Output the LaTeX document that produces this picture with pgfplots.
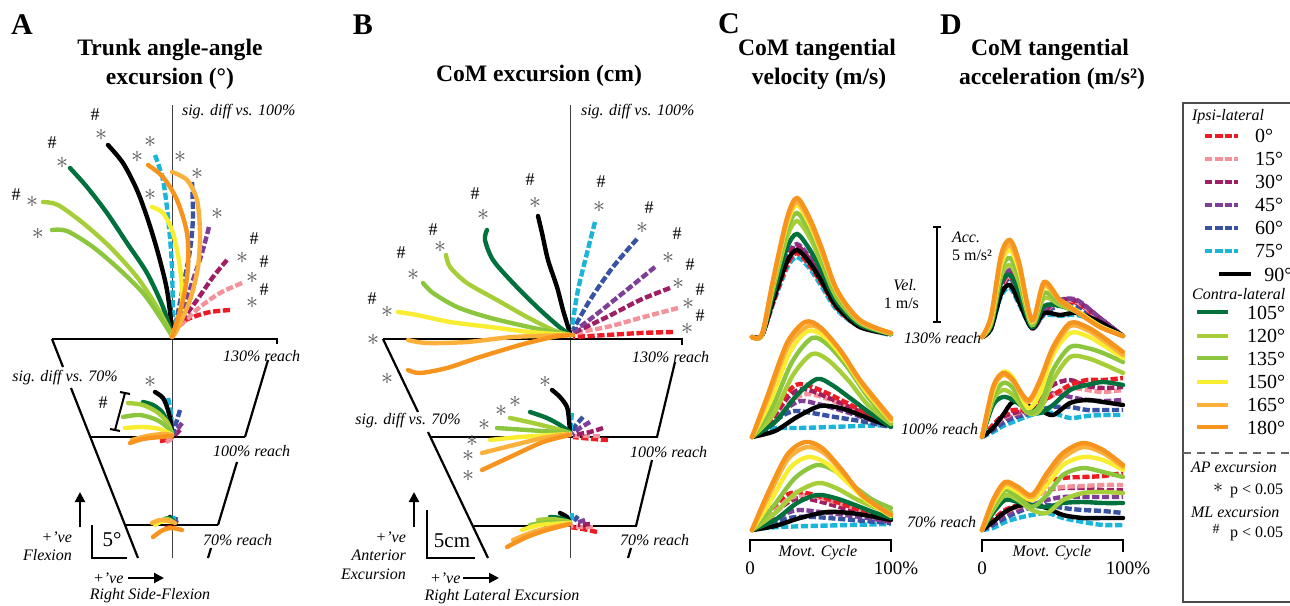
\documentclass[border=0pt]{standalone}
\usepackage{pgfplots}
\pgfplotsset{compat=1.18}
\usepackage{fontspec}
\setmainfont{Liberation Serif}
\usetikzlibrary{arrows.meta}

\definecolor{C0}{HTML}{ED1C24}
\definecolor{C15}{HTML}{F3929B}
\definecolor{C30}{HTML}{9E1F63}
\definecolor{C45}{HTML}{7F3F98}
\definecolor{C60}{HTML}{3953A4}
\definecolor{C75}{HTML}{1CB5DA}
\definecolor{C105}{HTML}{00703C}
\definecolor{C120}{HTML}{A6CE39}
\definecolor{C135}{HTML}{8CC63F}
\definecolor{C150}{HTML}{F9ED32}
\definecolor{C165}{HTML}{FBB03B}
\definecolor{C180}{HTML}{F7941D}
\definecolor{star}{HTML}{555555}

\newcommand{\fs}[1]{\fontsize{#1}{#1}\selectfont}

\tikzset{
  base/.style={line width=2.2pt, smooth},
  dsh/.style={base, dash pattern=on 3.6pt off 1.3pt},
  sol/.style={base, line cap=round},
  i0/.style={dsh, color=C0}, i15/.style={dsh, color=C15}, i30/.style={dsh, color=C30},
  i45/.style={dsh, color=C45}, i60/.style={dsh, color=C60}, i75/.style={dsh, color=C75},
  k90/.style={sol, color=black}, k105/.style={sol, color=C105}, k120/.style={sol, color=C120},
  k135/.style={sol, color=C135}, k150/.style={sol, color=C150}, k165/.style={sol, color=C165},
  k180/.style={sol, color=C180},
  frame/.style={line width=1.1pt, black},
  thin/.style={line width=0.6pt, black},
  ax/.style={line width=0.5pt, black!75},
  st/.style={text=star, font=\fs{12}, inner sep=0pt, text height=3.5pt, text depth=0pt, yshift=-1.5pt},
  hs/.style={font=\fs{9}, inner sep=0pt, text height=5pt, text depth=0pt, yshift=1pt},
  lab/.style={font=\fs{8}\itshape, anchor=west},
  ttl/.style={font=\fs{11.8}\bfseries, align=center},
  arr/.style={line width=1.1pt, -{Triangle[length=5pt,width=5pt]}},
}

\begin{document}
\begin{tikzpicture}
\begin{axis}[x=0.5pt, y=0.5pt, xmin=0, xmax=1290, ymin=0, ymax=605,
  y dir=reverse, hide axis, clip=false, scale only axis]
\coordinate (TL) at (axis cs:0,0);
\coordinate (BR) at (axis cs:1290,605);

% ---------------- titles
\node[font=\fs{15}\bfseries] at (axis cs:22,25) {A};
\node[ttl] at (axis cs:170,50) {Trunk angle-angle};
\node[ttl] at (axis cs:170,79) {excursion (°)};
\node[font=\fs{15}\bfseries] at (axis cs:363,25) {B};
\node[ttl] at (axis cs:539,76) {CoM excursion (cm)};
\node[font=\fs{15}\bfseries] at (axis cs:729,24) {C};
\node[ttl] at (axis cs:817,50) {CoM tangential};
\node[ttl] at (axis cs:819,79) {velocity (m/s)};
\node[font=\fs{15}\bfseries] at (axis cs:951,25) {D};
\node[ttl] at (axis cs:1050,50) {CoM tangential};
\node[ttl] at (axis cs:1052,79) {acceleration (m/s²)};

% ================= PANEL A frame
\draw[ax] (axis cs:172,105) -- (axis cs:172,558);
\draw[frame] (axis cs:52,339) -- (axis cs:277,339) -- (axis cs:277,344);
\draw[frame] (axis cs:52,339) -- (axis cs:63,367);
\draw[frame] (axis cs:71,388) -- (axis cs:138,558);
\draw[frame] (axis cs:268,360) -- (axis cs:245,437);
\draw[frame] (axis cs:237,462) -- (axis cs:218,525);
\draw[frame] (axis cs:211,548) -- (axis cs:208,558);
\draw[thin] (axis cs:91,437) -- (axis cs:245,437);
\draw[thin] (axis cs:126,525) -- (axis cs:218,525);
\node[lab] at (axis cs:175,112) {sig. diff vs. 100\%};
\node[font=\fs{8}\itshape] at (axis cs:65,378) {sig. diff vs. 70\%};
\node[lab] at (axis cs:216,356) {130\% reach};
\node[lab] at (axis cs:206,451) {100\% reach};
\node[lab] at (axis cs:196,540) {70\% reach};
\draw[arr] (axis cs:80,527) -- (axis cs:80,492);
\node[font=\fs{8}\itshape, anchor=east] at (axis cs:79,537) {+’ve};
\node[font=\fs{8}\itshape, anchor=east] at (axis cs:79,555) {Flexion};
\draw[line width=1.1pt] (axis cs:92,525) -- (axis cs:92,558) -- (axis cs:127,558);
\node[font=\fs{10.5}] at (axis cs:112,540) {5°};
\node[font=\fs{8}\itshape, anchor=west] at (axis cs:86,578) {+’ve};
\draw[arr] (axis cs:128,578) -- (axis cs:164,578);
\node[font=\fs{8}\itshape] at (axis cs:150,596) {Right Side-Flexion};
% bracket
\draw[line width=1pt] (axis cs:125,393) -- (axis cs:115,430);
\draw[line width=1pt] (axis cs:120,392) -- (axis cs:130,394);
\draw[line width=1pt] (axis cs:110,429) -- (axis cs:120,431);
\node[hs] at (axis cs:103,405) {\#};
\node[st] at (axis cs:150,381) {$\ast$};

% A top (130%)
\addplot[i0]  coordinates {(230,310)(210,312)(193,317)(180,323)(172,333)};
\addplot[i15] coordinates {(242,283)(220,293)(200,307)(183,323)(172,333)};
\addplot[i30] coordinates {(227,260)(213,277)(197,300)(182,320)(172,333)};
\addplot[i45] coordinates {(209,227)(202,253)(192,283)(182,313)(173,333)};
\addplot[i60] coordinates {(192,182)(193,217)(190,250)(183,287)(175,327)(172,335)};
\addplot[i75] coordinates {(155,155)(163,180)(168,217)(172,267)(173,333)};
\addplot[k90] coordinates {(108,145)(123,163)(137,190)(148,220)(158,253)(167,290)(172,330)(172,337)};
\addplot[k105] coordinates {(70,168)(87,187)(107,213)(127,243)(147,273)(163,307)(172,335)};
\addplot[k120] coordinates {(43,202)(58,205)(83,223)(110,247)(137,277)(157,307)(172,335)};
\addplot[k135] coordinates {(52,230)(67,231)(93,247)(120,270)(143,293)(160,317)(172,336)};
\addplot[k150] coordinates {(152,207)(163,213)(173,233)(180,267)(182,300)(177,323)(172,335)};
\addplot[k165] coordinates {(172,172)(187,180)(197,200)(200,233)(198,267)(190,300)(177,330)(172,337)};
\addplot[k180] coordinates {(148,165)(163,177)(177,200)(187,233)(188,267)(183,300)(172,337)};
% A middle (100%)
\addplot[i0]  coordinates {(160,441)(166,440)(172,437)};
\addplot[i15] coordinates {(166,442)(170,440)(173,437)};
\addplot[i30] coordinates {(180,430)(176,434)(172,437)};
\addplot[i45] coordinates {(182,423)(177,430)(173,435)};
\addplot[i60] coordinates {(180,410)(177,420)(173,433)};
\addplot[i75] coordinates {(168,398)(171,413)(172,433)};
\addplot[k90] coordinates {(155,392)(163,398)(168,410)(171,423)(172,435)};
\addplot[k105] coordinates {(143,402)(153,405)(162,412)(168,423)(172,433)};
\addplot[k120] coordinates {(128,403)(143,405)(157,412)(167,422)(172,433)};
\addplot[k135] coordinates {(123,417)(140,415)(157,420)(168,428)(172,435)};
\addplot[k150] coordinates {(125,428)(143,427)(160,429)(172,435)};
\addplot[k165] coordinates {(132,440)(147,436)(163,434)(172,435)};
\addplot[k180] coordinates {(130,443)(143,439)(160,437)(172,436)};
% A bottom (70%)
\addplot[i0]  coordinates {(165,528)(171,527)(175,526)};
\addplot[i45] coordinates {(177,520)(175,524)};
\addplot[i60] coordinates {(176,517)(175,522)};
\addplot[i75] coordinates {(173,516)(174,520)};
\addplot[k90] coordinates {(170,517)(172,521)};
\addplot[k105] coordinates {(165,519)(170,518)(173,521)};
\addplot[k120] coordinates {(160,521)(167,519)(172,521)};
\addplot[k150] coordinates {(155,525)(163,521)(172,522)};
\addplot[k165] coordinates {(152,523)(160,520)(170,521)(175,523)};
\addplot[k180] coordinates {(153,537)(163,530)(172,528)(182,530)};

% A significance
\node[hs] at (axis cs:95,117) {\#};
\node[st] at (axis cs:101,134) {$\ast$};
\node[hs] at (axis cs:52,145) {\#};
\node[st] at (axis cs:62,162) {$\ast$};
\node[hs] at (axis cs:16,197) {\#};
\node[st] at (axis cs:32,201) {$\ast$};
\node[st] at (axis cs:38,233) {$\ast$};
\node[st] at (axis cs:150,141) {$\ast$};
\node[st] at (axis cs:137,156) {$\ast$};
\node[st] at (axis cs:180,156) {$\ast$};
\node[st] at (axis cs:197,173) {$\ast$};
\node[st] at (axis cs:150,194) {$\ast$};
\node[st] at (axis cs:217,213) {$\ast$};
\node[hs] at (axis cs:254,241) {\#};
\node[st] at (axis cs:242,257) {$\ast$};
\node[hs] at (axis cs:264,264) {\#};
\node[st] at (axis cs:252,277) {$\ast$};
\node[hs] at (axis cs:264,292) {\#};
\node[st] at (axis cs:252,302) {$\ast$};

% ================= PANEL B frame
\draw[ax] (axis cs:570,105) -- (axis cs:570,558);
\draw[frame] (axis cs:383,339) -- (axis cs:682,339) -- (axis cs:682,345);
\draw[frame] (axis cs:383,339) -- (axis cs:418,412);
\draw[frame] (axis cs:428,432) -- (axis cs:488,558);
\draw[frame] (axis cs:675,362) -- (axis cs:657,437);
\draw[frame] (axis cs:652,460) -- (axis cs:636,526);
\draw[frame] (axis cs:631,548) -- (axis cs:628,558);
\draw[thin] (axis cs:431,437) -- (axis cs:658,437);
\draw[thin] (axis cs:474,526) -- (axis cs:637,526);
\node[lab] at (axis cs:574,112) {sig. diff vs. 100\%};
\node[font=\fs{8}\itshape] at (axis cs:408,421) {sig. diff vs. 70\%};
\node[lab] at (axis cs:625,357) {130\% reach};
\node[lab] at (axis cs:623,452) {100\% reach};
\node[lab] at (axis cs:613,540) {70\% reach};
\draw[arr] (axis cs:414,527) -- (axis cs:414,492);
\node[font=\fs{8}\itshape, anchor=east] at (axis cs:413,537) {+’ve};
\node[font=\fs{8}\itshape, anchor=east] at (axis cs:413,555) {Anterior};
\node[font=\fs{8}\itshape, anchor=east] at (axis cs:413,574) {Excursion};
\draw[line width=1.1pt] (axis cs:427,510) -- (axis cs:427,558) -- (axis cs:475,558);
\node[font=\fs{10.5}] at (axis cs:452,541) {5cm};
\node[font=\fs{8}\itshape, anchor=west] at (axis cs:423,578) {+’ve};
\draw[arr] (axis cs:463,578) -- (axis cs:499,578);
\node[font=\fs{8}\itshape] at (axis cs:502,597) {Right Lateral Excursion};

% B top (130%)
\addplot[i0]  coordinates {(673,332)(640,333)(607,335)(573,337)};
\addplot[i15] coordinates {(678,308)(640,318)(607,327)(573,333)};
\addplot[i30] coordinates {(670,288)(640,300)(607,317)(573,333)};
\addplot[i45] coordinates {(655,267)(623,293)(593,317)(573,332)};
\addplot[i60] coordinates {(637,239)(613,267)(590,300)(573,330)};
\addplot[i75] coordinates {(595,222)(587,253)(578,290)(572,327)};
\addplot[k90] coordinates {(538,216)(542,233)(548,260)(557,287)(563,310)(570,333)};
\addplot[k105] coordinates {(487,230)(485,240)(493,260)(513,283)(537,307)(557,325)(570,335)};
\addplot[k120] coordinates {(446,255)(450,267)(467,283)(497,300)(527,317)(553,330)(570,335)};
\addplot[k135] coordinates {(423,283)(433,293)(457,307)(487,317)(520,325)(553,332)(570,335)};
\addplot[k150] coordinates {(398,312)(417,315)(450,322)(490,327)(530,332)(570,335)};
\addplot[k165] coordinates {(408,340)(427,343)(467,342)(513,337)(570,335)};
\addplot[k180] coordinates {(408,370)(420,373)(447,368)(480,357)(520,345)(553,337)(573,335)};
% B middle (100%)
\addplot[i0]  coordinates {(608,440)(593,439)(573,437)};
\addplot[i15] coordinates {(600,436)(588,436)(573,436)};
\addplot[i30] coordinates {(603,428)(590,432)(573,435)};
\addplot[i45] coordinates {(590,422)(580,428)(572,434)};
\addplot[i60] coordinates {(583,417)(576,425)(571,433)};
\addplot[i75] coordinates {(572,413)(571,423)(571,432)};
\addplot[k90] coordinates {(552,390)(560,397)(567,407)(569,420)(570,432)};
\addplot[k105] coordinates {(530,412)(547,418)(560,425)(570,432)};
\addplot[k120] coordinates {(510,418)(533,423)(557,429)(570,433)};
\addplot[k135] coordinates {(497,428)(527,430)(570,433)};
\addplot[k150] coordinates {(490,440)(520,437)(570,434)};
\addplot[k165] coordinates {(482,453)(510,446)(543,438)(570,434)};
\addplot[k180] coordinates {(482,470)(510,457)(543,442)(570,435)};
% B bottom (70%)
\addplot[i0]  coordinates {(597,532)(583,529)(570,527)};
\addplot[i15] coordinates {(593,527)(580,527)(571,526)};
\addplot[i30] coordinates {(590,524)(578,525)};
\addplot[i45] coordinates {(585,520)(576,523)};
\addplot[i60] coordinates {(578,516)(574,521)};
\addplot[i75] coordinates {(572,513)(572,520)};
\addplot[k90] coordinates {(560,513)(567,517)(570,523)};
\addplot[k105] coordinates {(550,517)(560,518)(570,522)};
\addplot[k120] coordinates {(538,520)(553,519)(570,522)};
\addplot[k135] coordinates {(530,525)(550,522)(570,523)};
\addplot[k150] coordinates {(522,530)(540,525)(570,523)};
\addplot[k165] coordinates {(513,540)(533,532)(553,527)(570,524)};
\addplot[k180] coordinates {(507,547)(527,537)(547,530)(570,524)};

% B significance
\node[hs] at (axis cs:530,182) {\#};
\node[st] at (axis cs:535,202) {$\ast$};
\node[hs] at (axis cs:475,196) {\#};
\node[st] at (axis cs:483,214) {$\ast$};
\node[hs] at (axis cs:433,232) {\#};
\node[st] at (axis cs:440,246) {$\ast$};
\node[hs] at (axis cs:401,255) {\#};
\node[st] at (axis cs:413,274) {$\ast$};
\node[hs] at (axis cs:372,301) {\#};
\node[st] at (axis cs:387,311) {$\ast$};
\node[st] at (axis cs:373,339) {$\ast$};
\node[st] at (axis cs:387,378) {$\ast$};
\node[hs] at (axis cs:601,184) {\#};
\node[st] at (axis cs:599,206) {$\ast$};
\node[hs] at (axis cs:649,210) {\#};
\node[st] at (axis cs:642,227) {$\ast$};
\node[hs] at (axis cs:677,236) {\#};
\node[st] at (axis cs:668,257) {$\ast$};
\node[hs] at (axis cs:690,267) {\#};
\node[st] at (axis cs:678,283) {$\ast$};
\node[hs] at (axis cs:700,292) {\#};
\node[st] at (axis cs:688,303) {$\ast$};
\node[hs] at (axis cs:700,318) {\#};
\node[st] at (axis cs:687,328) {$\ast$};
\node[st] at (axis cs:545,381) {$\ast$};
\node[st] at (axis cs:515,401) {$\ast$};
\node[st] at (axis cs:501,410) {$\ast$};
\node[st] at (axis cs:484,424) {$\ast$};
\node[st] at (axis cs:472,440) {$\ast$};
\node[st] at (axis cs:468,455) {$\ast$};
\node[st] at (axis cs:468,475) {$\ast$};

% ================= PANEL C
\draw[line width=1.1pt] (axis cs:933,227) -- (axis cs:941,227);
\draw[line width=1.1pt] (axis cs:937,227) -- (axis cs:937,322);
\draw[line width=1.1pt] (axis cs:933,322) -- (axis cs:941,322);
\node[font=\fs{8}\itshape, anchor=west] at (axis cs:945,237) {Acc.};
\node[font=\fs{8}, anchor=west] at (axis cs:945,255) {5 m/s²};
\node[font=\fs{8}\itshape, anchor=east] at (axis cs:924,285) {Vel.};
\node[font=\fs{8}, anchor=east] at (axis cs:926,303) {1 m/s};
\node[lab] at (axis cs:897,338) {130\% reach};
\node[lab] at (axis cs:894,429) {100\% reach};
\node[lab] at (axis cs:900,522) {70\% reach};
\draw[line width=1.1pt] (axis cs:750,552) -- (axis cs:750,540) -- (axis cs:891,540) -- (axis cs:891,552);
\node[font=\fs{8}\itshape] at (axis cs:818,553) {Movt. Cycle};
\node[font=\fs{9.5}] at (axis cs:750,568) {0};
\node[font=\fs{9.5}] at (axis cs:896,568) {100\%};

% C 130%
\addplot[i75] coordinates {(752,337)(762,335)(773,304)(787,268)(797,257)(810,269)(822,287)(837,310)(860,327)(891,335)};
\addplot[i60] coordinates {(752,337)(762,335)(773,300)(787,260)(797,247)(810,261)(822,280)(837,306)(860,326)(891,334)};
\addplot[i45] coordinates {(752,337)(762,335)(773,299)(787,257)(797,244)(810,258)(822,278)(837,305)(860,326)(891,334)};
\addplot[i30] coordinates {(752,337)(762,335)(773,300)(787,259)(797,246)(810,260)(822,280)(837,306)(860,326)(891,334)};
\addplot[i15] coordinates {(752,337)(762,335)(773,302)(787,264)(797,252)(810,265)(822,283)(837,308)(860,327)(891,334)};
\addplot[i0]  coordinates {(752,337)(762,335)(773,303)(787,265)(797,253)(810,266)(822,284)(837,308)(860,327)(891,334)};
\addplot[k90] coordinates {(752,337)(762,335)(773,301)(787,262)(797,250)(810,263)(822,282)(837,307)(860,327)(891,334)};
\addplot[k105] coordinates {(752,337)(762,335)(773,295)(787,248)(797,234)(810,250)(822,272)(837,302)(860,325)(891,334)};
\addplot[k120] coordinates {(752,337)(762,335)(773,289)(787,237)(797,221)(810,238)(822,264)(837,298)(860,323)(891,334)};
\addplot[k135] coordinates {(752,337)(762,335)(773,286)(787,230)(797,213)(810,232)(822,259)(837,295)(860,322)(891,333)};
\addplot[k150] coordinates {(752,337)(762,334)(773,283)(787,224)(797,205)(810,225)(822,254)(837,292)(860,321)(891,333)};
\addplot[k165] coordinates {(752,337)(762,334)(773,282)(787,221)(797,202)(810,222)(822,252)(837,291)(860,321)(891,333)};
\addplot[k180] coordinates {(752,337)(762,334)(773,280)(787,218)(797,198)(810,219)(822,249)(837,290)(860,320)(891,333)};
% C 100%
\addplot[i75] coordinates {(752,437)(765,431)(775,428)(800,428)(830,427)(860,426)(891,425)};
\addplot[i60] coordinates {(752,437)(768,428)(782,416)(795,411)(812,413)(835,417)(860,421)(891,427)};
\addplot[i45] coordinates {(752,437)(770,425)(785,410)(800,401)(818,404)(840,410)(865,418)(891,426)};
\addplot[i15] coordinates {(752,437)(772,424)(790,402)(807,394)(825,398)(848,407)(870,417)(891,425)};
\addplot[i30] coordinates {(752,437)(770,422)(788,397)(803,389)(822,395)(845,405)(870,416)(891,425)};
\addplot[i0]  coordinates {(752,437)(770,420)(788,392)(800,384)(820,390)(845,402)(870,415)(891,425)};
\addplot[k90] coordinates {(752,437)(775,431)(797,417)(820,406)(840,408)(860,415)(875,421)(891,426)};
\addplot[k105] coordinates {(752,437)(775,422)(797,395)(817,379)(832,385)(850,398)(870,413)(891,427)};
\addplot[k120] coordinates {(752,437)(773,415)(793,375)(812,354)(828,360)(848,380)(868,405)(891,424)};
\addplot[k135] coordinates {(752,437)(772,408)(792,362)(812,338)(828,345)(848,368)(868,397)(891,423)};
\addplot[k150] coordinates {(752,437)(770,402)(790,352)(808,331)(825,337)(845,360)(865,390)(891,421)};
\addplot[k165] coordinates {(752,437)(768,398)(788,346)(808,326)(823,331)(843,354)(863,385)(891,420)};
\addplot[k180] coordinates {(752,437)(767,397)(787,343)(805,322)(820,327)(840,350)(860,380)(891,418)};
% C 70%
\addplot[i75] coordinates {(752,530)(765,528)(780,527)(810,526)(850,525)(891,524)};
\addplot[i60] coordinates {(752,530)(768,525)(785,519)(797,517)(815,517)(840,519)(865,521)(891,523)};
\addplot[i45] coordinates {(752,530)(770,522)(787,513)(800,510)(820,512)(845,515)(868,518)(891,522)};
\addplot[i30] coordinates {(752,530)(770,517)(787,503)(800,498)(818,501)(843,508)(868,515)(891,521)};
\addplot[i15] coordinates {(752,530)(770,515)(787,500)(802,495)(820,498)(845,505)(868,513)(891,520)};
\addplot[i0]  coordinates {(752,530)(768,512)(785,496)(797,492)(815,495)(840,503)(865,512)(891,520)};
\addplot[k90] coordinates {(752,530)(775,526)(800,518)(827,512)(850,513)(870,516)(891,520)};
\addplot[k105] coordinates {(752,530)(775,520)(797,503)(817,495)(835,498)(855,505)(873,512)(891,518)};
\addplot[k120] coordinates {(752,530)(774,514)(796,493)(818,483)(836,488)(856,499)(874,507)(891,512)};
\addplot[k135] coordinates {(752,530)(772,508)(795,478)(817,465)(835,471)(855,487)(873,500)(891,508)};
\addplot[k150] coordinates {(752,530)(770,502)(790,468)(808,457)(826,463)(846,481)(866,500)(891,516)};
\addplot[k165] coordinates {(752,530)(768,497)(788,459)(807,447)(824,453)(844,474)(864,497)(891,515)};
\addplot[k180] coordinates {(752,530)(767,495)(787,455)(805,442)(822,448)(842,470)(862,495)(891,515)};

% ================= PANEL D
\draw[line width=1.1pt] (axis cs:982,552) -- (axis cs:982,540) -- (axis cs:1123,540) -- (axis cs:1123,552);
\node[font=\fs{8}\itshape] at (axis cs:1052,553) {Movt. Cycle};
\node[font=\fs{9.5}] at (axis cs:982,568) {0};
\node[font=\fs{9.5}] at (axis cs:1128,568) {100\%};

% D 130%
\addplot[i75] coordinates {(982,337)(991,329)(1001,296)(1010,288)(1019,304)(1032,328)(1044,315)(1060,316)(1077,315)(1100,323)(1123,336)};
\addplot[i60] coordinates {(982,337)(991,328)(1001,291)(1010,278)(1019,296)(1032,328)(1044,314)(1060,305)(1077,306)(1100,320)(1123,336)};
\addplot[i0]  coordinates {(982,337)(991,328)(1001,290)(1010,276)(1019,295)(1032,328)(1044,312)(1060,302)(1077,303)(1100,320)(1123,336)};
\addplot[i15] coordinates {(982,337)(991,328)(1001,289)(1010,274)(1019,294)(1032,328)(1044,312)(1060,301)(1077,302)(1100,319)(1123,336)};
\addplot[i30] coordinates {(982,337)(991,327)(1001,287)(1010,272)(1019,292)(1032,328)(1044,311)(1060,300)(1077,301)(1100,318)(1123,336)};
\addplot[i45] coordinates {(982,337)(991,327)(1001,285)(1010,270)(1019,290)(1032,328)(1044,310)(1060,300)(1077,300)(1100,318)(1123,336)};
\addplot[k90] coordinates {(982,337)(991,329)(1001,294)(1010,285)(1019,302)(1032,328)(1044,313)(1060,315)(1077,313)(1100,322)(1123,336)};
\addplot[k105] coordinates {(982,337)(991,326)(1001,283)(1010,275)(1019,292)(1032,327)(1044,306)(1060,306)(1077,312)(1100,326)(1123,336)};
\addplot[k120] coordinates {(982,337)(991,324)(1001,276)(1010,265)(1019,282)(1032,325)(1044,298)(1060,305)(1077,312)(1100,326)(1123,336)};
\addplot[k135] coordinates {(982,337)(991,322)(1001,270)(1010,258)(1019,276)(1032,324)(1044,293)(1060,303)(1077,311)(1100,326)(1123,336)};
\addplot[k150] coordinates {(982,337)(991,320)(1001,265)(1010,250)(1019,270)(1032,322)(1044,287)(1060,300)(1077,311)(1100,326)(1123,336)};
\addplot[k165] coordinates {(982,337)(991,318)(1001,260)(1010,245)(1019,266)(1032,321)(1044,285)(1060,301)(1077,312)(1100,327)(1123,336)};
\addplot[k180] coordinates {(982,337)(991,316)(1001,255)(1010,240)(1019,262)(1032,320)(1044,282)(1060,300)(1077,312)(1100,327)(1123,336)};
% D 100%
\addplot[i75] coordinates {(982,437)(993,432)(1003,426)(1013,422)(1028,416)(1040,413)(1053,413)(1070,418)(1087,416)(1103,415)(1123,415)};
\addplot[i60] coordinates {(982,437)(993,430)(1003,423)(1013,418)(1028,414)(1040,410)(1053,407)(1070,407)(1087,410)(1103,410)(1123,410)};
\addplot[i45] coordinates {(982,437)(993,428)(1003,420)(1013,416)(1028,412)(1040,405)(1053,393)(1070,397)(1087,400)(1103,401)(1123,400)};
\addplot[i15] coordinates {(982,437)(993,427)(1003,418)(1013,414)(1028,411)(1040,405)(1053,395)(1070,388)(1087,390)(1103,392)(1123,390)};
\addplot[i30] coordinates {(982,437)(993,426)(1003,417)(1013,413)(1028,410)(1040,400)(1053,385)(1070,380)(1087,386)(1103,388)(1123,387)};
\addplot[i0]  coordinates {(982,437)(993,425)(1003,415)(1013,410)(1028,410)(1040,402)(1053,395)(1070,385)(1087,380)(1103,380)(1123,378)};
\addplot[k90] coordinates {(982,437)(993,428)(1003,415)(1013,402)(1028,406)(1040,410)(1053,415)(1070,403)(1087,400)(1103,402)(1123,405)};
\addplot[k105] coordinates {(982,437)(993,405)(1003,397)(1013,400)(1028,410)(1040,413)(1053,405)(1070,390)(1087,385)(1103,382)(1123,385)};
\addplot[k120] coordinates {(982,437)(993,400)(1003,390)(1013,395)(1028,413)(1040,410)(1053,380)(1070,357)(1087,358)(1103,364)(1123,373)};
\addplot[k135] coordinates {(982,437)(993,397)(1003,383)(1013,388)(1028,412)(1040,405)(1053,370)(1070,347)(1087,348)(1103,353)(1123,362)};
\addplot[k150] coordinates {(982,437)(993,392)(1003,372)(1013,378)(1028,408)(1040,393)(1053,355)(1070,333)(1087,336)(1103,345)(1123,358)};
\addplot[k165] coordinates {(982,437)(993,389)(1003,375)(1013,381)(1028,402)(1040,382)(1053,350)(1070,326)(1087,330)(1103,340)(1123,355)};
\addplot[k180] coordinates {(982,437)(993,387)(1003,373)(1013,380)(1028,400)(1040,380)(1053,347)(1070,323)(1087,327)(1103,337)(1123,352)};
% D 70%
\addplot[i75] coordinates {(982,530)(993,528)(1005,522)(1018,518)(1032,515)(1047,513)(1063,518)(1083,522)(1103,525)(1123,525)};
\addplot[i60] coordinates {(982,530)(993,525)(1005,518)(1018,512)(1032,507)(1047,505)(1063,508)(1083,510)(1103,511)(1123,513)};
\addplot[i45] coordinates {(982,530)(993,523)(1005,515)(1018,510)(1032,505)(1047,500)(1063,497)(1083,497)(1103,497)(1123,497)};
\addplot[i30] coordinates {(982,530)(993,521)(1005,511)(1018,505)(1032,495)(1047,490)(1063,488)(1083,488)(1103,490)(1123,490)};
\addplot[i15] coordinates {(982,530)(993,521)(1005,512)(1018,507)(1032,500)(1047,490)(1063,487)(1083,486)(1103,485)(1123,485)};
\addplot[i0]  coordinates {(982,530)(993,520)(1005,510)(1018,505)(1032,498)(1047,483)(1063,478)(1083,477)(1103,476)(1123,473)};
\addplot[k90] coordinates {(982,530)(993,522)(1005,512)(1018,506)(1032,505)(1047,508)(1063,515)(1083,518)(1103,518)(1123,518)};
\addplot[k105] coordinates {(982,530)(993,513)(1005,500)(1018,502)(1032,505)(1047,507)(1063,503)(1083,502)(1103,503)(1123,503)};
\addplot[k120] coordinates {(982,530)(993,510)(1005,495)(1018,500)(1032,510)(1047,513)(1063,500)(1083,493)(1103,492)(1123,493)};
\addplot[k135] coordinates {(982,530)(993,507)(1005,490)(1018,497)(1032,507)(1047,495)(1063,475)(1083,468)(1103,472)(1123,477)};
\addplot[k150] coordinates {(982,530)(993,504)(1005,487)(1018,492)(1032,500)(1047,485)(1063,465)(1083,457)(1103,460)(1123,470)};
\addplot[k165] coordinates {(982,530)(993,502)(1005,484)(1018,489)(1032,497)(1047,477)(1063,458)(1083,447)(1103,453)(1123,467)};
\addplot[k180] coordinates {(982,530)(993,500)(1005,482)(1018,487)(1032,495)(1047,473)(1063,453)(1083,443)(1103,450)(1123,465)};

% ================= LEGEND
\draw[line width=0.7pt, black!70] (axis cs:1183,103) rectangle (axis cs:1300,602);
\draw[line width=0.7pt, black!60, dash pattern=on 4pt off 3pt] (axis cs:1183,453) -- (axis cs:1295,453);
\node[font=\fs{8}\itshape, anchor=west] at (axis cs:1185,117) {Ipsi-lateral};
\addplot[i0,  line width=2pt] coordinates {(1205,136)(1238,136)};
\addplot[i15, line width=2pt] coordinates {(1205,159)(1238,159)};
\addplot[i30, line width=2pt] coordinates {(1205,182)(1238,182)};
\addplot[i45, line width=2pt] coordinates {(1205,205)(1238,205)};
\addplot[i60, line width=2pt] coordinates {(1205,228)(1238,228)};
\addplot[i75, line width=2pt] coordinates {(1205,251)(1238,251)};
\addplot[k90, line width=2.2pt, line cap=butt] coordinates {(1219,274)(1251,274)};
\node[font=\fs{10}, anchor=west] at (axis cs:1248,136) {0°};
\node[font=\fs{10}, anchor=west] at (axis cs:1248,159) {15°};
\node[font=\fs{10}, anchor=west] at (axis cs:1248,182) {30°};
\node[font=\fs{10}, anchor=west] at (axis cs:1248,205) {45°};
\node[font=\fs{10}, anchor=west] at (axis cs:1248,228) {60°};
\node[font=\fs{10}, anchor=west] at (axis cs:1248,251) {75°};
\node[font=\fs{10}, anchor=west, inner sep=0pt] at (axis cs:1264,275) {90°};
\node[font=\fs{8}\itshape, anchor=west] at (axis cs:1185,294) {Contra-lateral};
\addplot[k105, line width=2pt, line cap=butt] coordinates {(1197,312)(1228,312)};
\addplot[k120, line width=2pt, line cap=butt] coordinates {(1197,336)(1228,336)};
\addplot[k135, line width=2pt, line cap=butt] coordinates {(1197,358)(1228,358)};
\addplot[k150, line width=2pt, line cap=butt] coordinates {(1197,382)(1228,382)};
\addplot[k165, line width=2pt, line cap=butt] coordinates {(1197,405)(1228,405)};
\addplot[k180, line width=2pt, line cap=butt] coordinates {(1197,427)(1228,427)};
\node[font=\fs{10}, anchor=west] at (axis cs:1240,313) {105°};
\node[font=\fs{10}, anchor=west] at (axis cs:1240,336) {120°};
\node[font=\fs{10}, anchor=west] at (axis cs:1240,359) {135°};
\node[font=\fs{10}, anchor=west] at (axis cs:1240,382) {150°};
\node[font=\fs{10}, anchor=west] at (axis cs:1240,405) {165°};
\node[font=\fs{10}, anchor=west] at (axis cs:1240,428) {180°};
\node[font=\fs{8}\itshape, anchor=west] at (axis cs:1184,467) {AP excursion};
\node[font=\fs{10}, inner sep=0pt, text height=3pt, text depth=0pt] at (axis cs:1218,489) {$\ast$};
\node[font=\fs{8}, anchor=west] at (axis cs:1223,491) {p < 0.05};
\node[font=\fs{8}\itshape, anchor=west] at (axis cs:1184,512) {ML excursion};
\node[font=\fs{7}, inner sep=0pt, text height=4pt, text depth=0pt] at (axis cs:1216,529) {\#};
\node[font=\fs{8}, anchor=west] at (axis cs:1223,534) {p < 0.05};
\end{axis}
\pgfresetboundingbox
\useasboundingbox (TL) rectangle (BR);
\end{tikzpicture}
\end{document}
